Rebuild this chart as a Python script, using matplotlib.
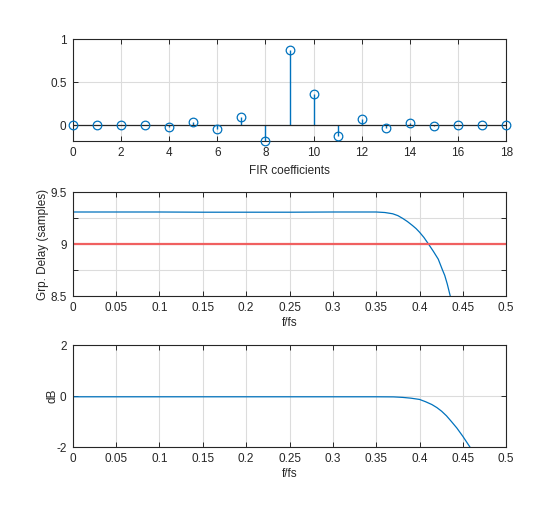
import matplotlib
matplotlib.use("Agg")
import matplotlib.pyplot as plt
import numpy as np

# FIR coefficients
coef_idx = list(range(19))
coef_val = [-0.004, 0.0, -0.003, 0.003, -0.018, 0.03, -0.05, 0.09, -0.187,
            0.875, 0.358, -0.13, 0.066, -0.038, 0.018, -0.008, 0.0, -0.003, 0.0]

# group delay (samples) vs normalized frequency
gd_f = [0.0, 0.05, 0.1, 0.15, 0.2, 0.25, 0.3, 0.35, 0.36, 0.369, 0.375,
        0.3806, 0.386, 0.3918, 0.396, 0.40, 0.405, 0.4104, 0.416, 0.4216,
        0.4265, 0.429, 0.432, 0.4354, 0.44]
gd_val = [9.31, 9.31, 9.31, 9.308, 9.308, 9.308, 9.31, 9.31, 9.305, 9.293,
          9.275, 9.248, 9.218, 9.18, 9.15, 9.115, 9.065, 9.0, 8.93, 8.855,
          8.75, 8.70, 8.615, 8.5, 8.33]
gd_ref = 9.0

# magnitude response (dB)
mag_f = [0.0, 0.1, 0.2, 0.3, 0.35, 0.37, 0.3806, 0.39, 0.40, 0.407, 0.4142,
         0.42, 0.4254, 0.431, 0.4366, 0.443, 0.45, 0.4582, 0.465]
mag_db = [-0.026, -0.026, -0.026, -0.026, -0.026, -0.03, -0.05, -0.08, -0.13,
          -0.22, -0.33, -0.45, -0.59, -0.77, -0.99, -1.25, -1.58, -2.0, -2.4]

blue = "#0072BD"
axc = "#262626"
freq_labels = ["0", "0.05", "0.1", "0.15", "0.2", "0.25", "0.3",
               "0.35", "0.4", "0.45", "0.5"]

plt.rcParams["font.family"] = ["Liberation Sans", "DejaVu Sans"]
plt.rcParams["font.size"] = 8.5
plt.rcParams["axes.unicode_minus"] = False


def style_axes(ax):
    ax.grid(True, color="#dcdcdc", linewidth=0.8)
    ax.set_axisbelow(True)
    ax.tick_params(direction="in", top=True, right=True, colors=axc,
                   labelcolor=axc, length=3.5, width=0.7, labelsize=8.5,
                   pad=4.5)
    for s in ax.spines.values():
        s.set_color(axc)
        s.set_linewidth(0.8)


fig = plt.figure(figsize=(5.6, 5.11), dpi=100)
left, width = 0.13, 0.774

ax1 = fig.add_axes([left, 0.724, width, 0.199])
ax2 = fig.add_axes([left, 0.4207, width, 0.203])
ax3 = fig.add_axes([left, 0.125, width, 0.1996])

# stem plot
ax1.vlines(coef_idx, 0, coef_val, color=blue, linewidth=1.0, zorder=3)
ax1.axhline(0, color=axc, linewidth=0.9, zorder=3)
ax1.plot(coef_idx, coef_val, "o", mfc="none", mec=blue, ms=6.2, mew=0.9,
         zorder=4, clip_on=False)
ax1.set_xlim(0, 18)
ax1.set_ylim(min(coef_val), 1)
ax1.set_xticks(range(0, 19, 2))
ax1.set_yticks([0, 0.5, 1])
ax1.set_yticklabels(["0", "0.5", "1"])
ax1.set_xlabel("FIR coefficients", color=axc, labelpad=4)
style_axes(ax1)

# group delay
ax2.plot(gd_f, gd_val, color=blue, linewidth=0.9)
ax2.axhline(gd_ref, color="#f06060", linewidth=1.6)
ax2.set_xlim(0, 0.5)
ax2.set_ylim(8.5, 9.5)
ax2.set_xticks(np.arange(11) * 0.05)
ax2.set_xticklabels(freq_labels)
ax2.set_yticks([8.5, 8.75, 9, 9.25, 9.5])
ax2.set_yticklabels(["8.5", "", "9", "", "9.5"])
ax2.set_xlabel("f/fs", color=axc, labelpad=2)
ax2.set_ylabel("Grp. Delay (samples)", color=axc, labelpad=1)
style_axes(ax2)

# magnitude
ax3.plot(mag_f, mag_db, color=blue, linewidth=0.9)
ax3.set_xlim(0, 0.5)
ax3.set_ylim(-2, 2)
ax3.set_xticks(np.arange(11) * 0.05)
ax3.set_xticklabels(freq_labels)
ax3.set_yticks([-2, 0, 2])
ax3.set_xlabel("f/fs", color=axc, labelpad=2)
ax3.set_ylabel("dB", color=axc, labelpad=-2)
style_axes(ax3)

fig.savefig("out.png", dpi=100, facecolor="white")
